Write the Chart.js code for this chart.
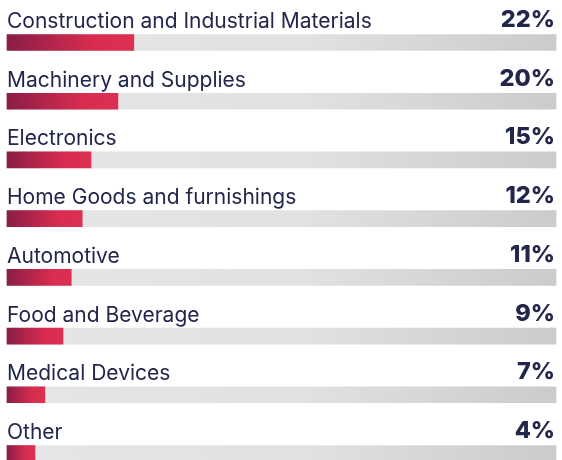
<!DOCTYPE html>
<html>
<head>
<meta charset="utf-8">
<script src="https://cdn.jsdelivr.net/npm/chart.js@4"></script>
<style>
  html, body { margin: 0; padding: 0; background: #ffffff; }
  #wrap { width: 562px; height: 460px; }
</style>
</head>
<body>
<div id="wrap"><canvas id="c" width="562" height="460"></canvas></div>
<script>
const categories = [
  "Construction and Industrial Materials",
  "Machinery and Supplies",
  "Electronics",
  "Home Goods and furnishings",
  "Automotive",
  "Food and Beverage",
  "Medical Devices",
  "Other"
];
const shareLabels = ["22%", "20%", "15%", "12%", "11%", "9%", "7%", "4%"];
// filled length of each bar (percent of track)
const barFill = [23.1, 20.2, 15.3, 13.7, 11.7, 10.2, 6.9, 5.1];
const trackFull = [100, 100, 100, 100, 100, 100, 100, 100];

const TEXT = "#22264b";

function fillGradient(ctx) {
  const chart = ctx.chart;
  const area = chart.chartArea;
  if (!area || ctx.type !== 'data') return "#d62c4f";
  const xs = chart.scales.x;
  const x0 = xs.getPixelForValue(0);
  const x1 = xs.getPixelForValue(ctx.raw);
  const g = chart.ctx.createLinearGradient(x0, 0, Math.max(x1, x0 + 1), 0);
  g.addColorStop(0, "#8a1d46");
  g.addColorStop(0.7, "#d92d4f");
  g.addColorStop(1, "#dc2f52");
  return g;
}
function trackGradient(ctx) {
  const chart = ctx.chart;
  const area = chart.chartArea;
  if (!area) return "#e2e2e2";
  const g = chart.ctx.createLinearGradient(area.left, 0, area.right, 0);
  g.addColorStop(0, "#e6e6e6");
  g.addColorStop(0.55, "#e1e1e1");
  g.addColorStop(1, "#cbcbcb");
  return g;
}

const labelPlugin = {
  id: 'labelPlugin',
  afterDatasetsDraw(chart) {
    const c = chart.ctx;
    const meta = chart.getDatasetMeta(1);
    const area = chart.chartArea;
    c.save();
    c.fillStyle = TEXT;
    meta.data.forEach((bar, i) => {
      const y = bar.y;
      c.font = "400 21px Inter, 'Noto Sans', sans-serif";
      c.textAlign = "left";
      c.textBaseline = "alphabetic";
      c.fillText(categories[i], area.left, y - 14.5);
      c.font = "800 23.5px Inter, 'Noto Sans', sans-serif";
      c.textAlign = "right";
      c.fillText(shareLabels[i], area.right - 1, y - 15.5);
    });
    c.restore();
  }
};

new Chart(document.getElementById('c'), {
  type: 'bar',
  data: {
    labels: categories,
    datasets: [
      {
        label: 'track',
        data: trackFull,
        backgroundColor: trackGradient,
        borderWidth: 0,
        barThickness: 16,
        grouped: false,
        order: 2
      },
      {
        label: 'share',
        data: barFill,
        backgroundColor: fillGradient,
        borderWidth: 0,
        barThickness: 16,
        grouped: false,
        order: 1
      }
    ]
  },
  options: {
    indexAxis: 'y',
    responsive: false,
    animation: false,
    layout: { padding: { left: 7, right: 6, top: 42.5, bottom: 6.5 } },
    plugins: { legend: { display: false }, tooltip: { enabled: false } },
    scales: {
      x: { display: false, min: 0, max: 100 },
      y: { display: false, offset: false }
    },
    datasets: { bar: { clip: false } }
  },
  plugins: [labelPlugin]
});
</script>
</body>
</html>
